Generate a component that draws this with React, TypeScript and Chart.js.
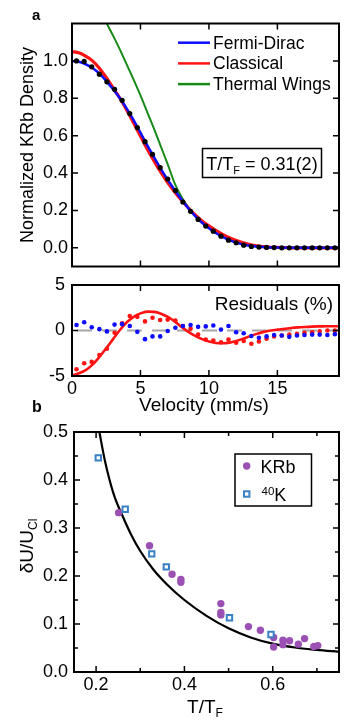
import React, { useEffect, useRef } from "react";
import { Chart, registerables } from "chart.js";

Chart.register(...registerables);

const FONT = '"Liberation Sans", Arial, Helvetica, sans-serif';
Chart.defaults.font.family = FONT;

// ---------------- Panel a : density profile ----------------
const DOT_VELOCITY = [0.33, 0.89, 1.44, 2.0, 2.55, 3.11, 3.66, 4.22, 4.77, 5.33, 5.88, 6.44, 6.99, 7.55, 8.1, 8.66, 9.21, 9.77, 10.32, 10.88, 11.43, 11.99, 12.54, 13.1, 13.65, 14.21, 14.76, 15.32, 15.87, 16.43, 16.98, 17.54, 18.09, 18.65, 19.2];
const DENSITY_DATA = [1.0, 0.997, 0.968, 0.929, 0.888, 0.848, 0.789, 0.718, 0.643, 0.568, 0.5, 0.429, 0.368, 0.306, 0.245, 0.195, 0.152, 0.116, 0.089, 0.062, 0.041, 0.027, 0.014, 0.007, 0.004, 0.002, 0.001, 0, 0, 0, 0, 0, 0, 0, 0];

const CURVE_VELOCITY = [0, 0.5, 1, 1.5, 2, 2.5, 3, 3.5, 4, 4.5, 5, 5.5, 6, 6.5, 7, 7.5, 8, 8.5, 9, 9.5, 10, 10.5, 11, 11.5, 12, 12.5, 13, 13.5, 14, 14.5, 15, 15.5, 16, 16.5, 17, 17.5, 18, 18.5, 19, 19.5];
const FERMI_DIRAC = [1.0, 0.995, 0.982, 0.962, 0.932, 0.893, 0.848, 0.8, 0.745, 0.683, 0.616, 0.548, 0.484, 0.421, 0.363, 0.309, 0.258, 0.211, 0.17, 0.134, 0.104, 0.079, 0.058, 0.041, 0.028, 0.018, 0.011, 0.007, 0.004, 0.002, 0.001, 0, 0, 0, 0, 0, 0, 0, 0, 0];
const CLASSICAL = [1.05, 1.043, 1.025, 1.0, 0.961, 0.911, 0.855, 0.8, 0.736, 0.668, 0.598, 0.528, 0.464, 0.403, 0.348, 0.299, 0.254, 0.213, 0.176, 0.144, 0.117, 0.093, 0.072, 0.054, 0.039, 0.027, 0.017, 0.01, 0.006, 0.003, 0.002, 0.001, 0, 0, 0, 0, 0, 0, 0, 0];
const THERMAL_VELOCITY = [2, 2.5, 3, 3.5, 4, 4.5, 5, 5.5, 6, 6.5, 7, 7.5, 8, 8.5, 9, 9.5, 10, 10.5, 11, 11.5, 12, 12.5, 13, 13.5, 14, 14.5, 15, 15.5, 16, 16.5, 17, 17.5, 18, 18.5, 19, 19.5];
const THERMAL_WINGS = [1.28, 1.206, 1.135, 1.06, 0.98, 0.9, 0.815, 0.725, 0.635, 0.54, 0.445, 0.345, 0.272, 0.216, 0.173, 0.136, 0.106, 0.081, 0.06, 0.043, 0.03, 0.02, 0.013, 0.008, 0.005, 0.003, 0.002, 0.001, 0, 0, 0, 0, 0, 0, 0, 0];

const DENSITY_TICKS = [0, 0.2, 0.4, 0.6, 0.8, 1.0];
const VELOCITY_TICKS = [0, 5, 10, 15];
const VELOCITY_INNER_TICKS = [5, 10, 15];

// ---------------- Residuals ----------------
const RESID_FERMI_DIRAC = [0.6, 0.9, 0.35, 0.15, -0.1, 0.65, 0.7, 0.5, -0.15, -0.95, -0.65, -0.65, -0.05, 0.3, 0.5, 0.6, 0.4, 0.45, 0.55, 0.1, 0.5, -0.2, -0.3, -0.6, -0.8, -0.65, -0.5, -0.55, -0.7, -0.55, -0.5, -0.45, -0.45, -0.5, -0.4];
const RESID_CLASSICAL = [-4.25, -3.6, -3.45, -2.7, -2.0, -0.25, 0.8, 1.6, 1.5, 1.0, 1.4, 1.15, 1.2, 1.1, 0.5, 0.2, -0.45, -1.0, -1.1, -1.3, -1.0, -1.35, -1.15, -1.45, -1.2, -0.9, -0.65, -0.55, -0.45, -0.35, -0.25, -0.2, -0.1, 0.0, 0.0];
const RESID_CLASSICAL_FIT = [-4.95, -4.7, -4.35, -3.75, -2.9, -1.95, -0.95, 0.05, 0.9, 1.5, 1.88, 2.07, 2.05, 1.85, 1.5, 1.0, 0.4, -0.15, -0.6, -0.95, -1.22, -1.37, -1.4, -1.33, -1.15, -0.9, -0.62, -0.37, -0.15, 0.0, 0.1, 0.18, 0.27, 0.34, 0.39, 0.43, 0.45, 0.46, 0.47, 0.47];
const ZERO_VELOCITY = [0, 19.5];
const ZERO_LINE = [0, 0];
const RESID_TICKS = [-5, 0, 5];

// ---------------- Panel b ----------------
const KRB_T = [0.251, 0.321, 0.372, 0.392, 0.392, 0.4825, 0.4825, 0.4825, 0.545, 0.572, 0.602, 0.602, 0.623, 0.623, 0.638, 0.658, 0.672, 0.693, 0.702];
const KRB_DU = [0.332, 0.263, 0.2035, 0.193, 0.187, 0.1425, 0.124, 0.119, 0.0946, 0.087, 0.072, 0.052, 0.066, 0.057, 0.065, 0.058, 0.0696, 0.053, 0.055];
const K40_T = [0.205, 0.266, 0.326, 0.359, 0.502, 0.596];
const K40_DU = [0.446, 0.339, 0.246, 0.219, 0.113, 0.078];
const THEORY_T = [0.2075, 0.22, 0.24, 0.26, 0.28, 0.3, 0.33, 0.36, 0.4, 0.45, 0.5, 0.55, 0.6, 0.65, 0.7, 0.75];
const THEORY_DU = [0.5, 0.44, 0.37, 0.325, 0.285, 0.252, 0.213, 0.183, 0.15, 0.117, 0.091, 0.072, 0.059, 0.051, 0.046, 0.042];
const TTF_TICKS = [0.2, 0.4, 0.6];
const TTF_MINOR = [0.3, 0.5, 0.7];
const DU_TICKS = [0, 0.1, 0.2, 0.3, 0.4, 0.5];
const DU_MINOR = [0.05, 0.15, 0.25, 0.35, 0.45];

const BLUE = "#0d0dff";
const RED = "#ff1212";
const GREEN = "#178a17";
const PURPLE = "#9b51b3";
const SQUARE_BLUE = "#3a80c4";
const GRAY = "#a6a6a6";

const mk = (xs: number[], ys: number[]) => xs.map((x, i) => ({ x, y: ys[i] }));

type Part = { t: string; size: number; dy?: number; bold?: boolean };

function drawRich(
  ctx: CanvasRenderingContext2D,
  parts: Part[],
  x: number,
  y: number,
  align: "left" | "center" | "right",
  rot = 0
) {
  ctx.save();
  ctx.translate(x, y);
  if (rot) ctx.rotate(rot);
  ctx.textBaseline = "alphabetic";
  ctx.textAlign = "left";
  ctx.fillStyle = "#000";
  const f = (p: Part) => `${p.bold ? "bold " : ""}${p.size}px ${FONT}`;
  let w = 0;
  for (const p of parts) {
    ctx.font = f(p);
    w += ctx.measureText(p.t).width;
  }
  let cx = align === "left" ? 0 : align === "center" ? -w / 2 : -w;
  for (const p of parts) {
    ctx.font = f(p);
    ctx.fillText(p.t, cx, p.dy || 0);
    cx += ctx.measureText(p.t).width;
  }
  ctx.restore();
}

function linearAxis(o: {
  min: number;
  max: number;
  ticks: number[];
  fmt: (v: number) => string;
  pad: number;
  fixWidth?: number;
  fixHeight?: number;
  display?: boolean;
}) {
  return {
    type: "linear",
    display: o.display ?? true,
    min: o.min,
    max: o.max,
    afterBuildTicks: (s: any) => {
      s.ticks = o.ticks.map((v) => ({ value: v }));
    },
    afterFit: (s: any) => {
      if (o.fixWidth !== undefined) s.width = o.fixWidth;
      if (o.fixHeight !== undefined) s.height = o.fixHeight;
      s.paddingTop = 0;
      s.paddingBottom = 0;
      s.paddingLeft = 0;
      s.paddingRight = 0;
    },
    grid: { display: false, drawTicks: false },
    border: { display: false },
    ticks: {
      autoSkip: false,
      maxRotation: 0,
      minRotation: 0,
      padding: o.pad,
      color: "#000",
      font: { family: FONT, size: 18 },
      callback: (v: any) => o.fmt(Number(v)),
    },
  };
}

function framePlugin(spec: {
  xMajor: number[];
  xMinor?: number[];
  yMajor: number[];
  yMinor?: number[];
  draw?: (ctx: CanvasRenderingContext2D) => void;
}) {
  return {
    id: "frameTicks",
    afterDraw(chart: any) {
      const { ctx, chartArea: a } = chart;
      const xs = chart.scales.x;
      const ys = chart.scales.y;
      ctx.save();
      ctx.strokeStyle = "#000";
      ctx.lineWidth = 1.5;
      ctx.beginPath();
      const vt = (vals: number[], len: number) =>
        vals.forEach((v) => {
          const p = xs.getPixelForValue(v);
          ctx.moveTo(p, a.bottom);
          ctx.lineTo(p, a.bottom - len);
          ctx.moveTo(p, a.top);
          ctx.lineTo(p, a.top + len);
        });
      const ht = (vals: number[], len: number) =>
        vals.forEach((v) => {
          const p = ys.getPixelForValue(v);
          ctx.moveTo(a.left, p);
          ctx.lineTo(a.left + len, p);
          ctx.moveTo(a.right, p);
          ctx.lineTo(a.right - len, p);
        });
      vt(spec.xMajor, 6);
      vt(spec.xMinor || [], 4);
      ht(spec.yMajor, 6);
      ht(spec.yMinor || [], 4);
      ctx.stroke();
      ctx.lineWidth = 2;
      ctx.strokeRect(a.left, a.top, a.right - a.left, a.bottom - a.top);
      ctx.restore();
      if (spec.draw) {
        ctx.save();
        spec.draw(ctx);
        ctx.restore();
      }
    },
  };
}

const baseOptions = (padding: any, scales: any) => ({
  responsive: false,
  maintainAspectRatio: false,
  animation: false,
  events: [],
  devicePixelRatio: 1,
  layout: { padding },
  plugins: { legend: { display: false }, tooltip: { enabled: false } },
  scales,
});

const LEGEND_A: [string, string][] = [
  ["Fermi-Dirac", BLUE],
  ["Classical", RED],
  ["Thermal Wings", GREEN],
];

function configA(): any {
  return {
    type: "scatter",
    data: {
      datasets: [
        { data: mk(DOT_VELOCITY, DENSITY_DATA), showLine: false, pointRadius: 2.6, pointBorderWidth: 0, backgroundColor: "#000", pointBackgroundColor: "#000" },
        { data: mk(CURVE_VELOCITY, FERMI_DIRAC), showLine: true, pointRadius: 0, borderColor: BLUE, borderWidth: 2.5, cubicInterpolationMode: "monotone" },
        { data: mk(CURVE_VELOCITY, CLASSICAL), showLine: true, pointRadius: 0, borderColor: RED, borderWidth: 3.2, cubicInterpolationMode: "monotone" },
        { data: mk(THERMAL_VELOCITY, THERMAL_WINGS), showLine: true, pointRadius: 0, borderColor: GREEN, borderWidth: 2, cubicInterpolationMode: "monotone" },
      ],
    },
    options: baseOptions(
      { left: 0, right: 20, top: 23.5, bottom: 8.5 },
      {
        x: linearAxis({ min: 0, max: 19.5, ticks: VELOCITY_TICKS, fmt: (v) => String(v), pad: 2, display: false }),
        y: linearAxis({ min: -0.1, max: 1.2, ticks: DENSITY_TICKS, fmt: (v) => v.toFixed(1), pad: 4, fixWidth: 72 }),
      }
    ),
    plugins: [
      framePlugin({
        xMajor: VELOCITY_INNER_TICKS,
        yMajor: DENSITY_TICKS,
        draw: (ctx) => {
          drawRich(ctx, [{ t: "a", size: 15, bold: true }], 32, 20, "left");
          drawRich(ctx, [{ t: "Normalized KRb Density", size: 18 }], 33, 145, "center", -Math.PI / 2);
          LEGEND_A.forEach(([label, color], i) => {
            const y = 42.7 + i * 20.7;
            ctx.strokeStyle = color;
            ctx.lineWidth = 2.5;
            ctx.beginPath();
            ctx.moveTo(178, y);
            ctx.lineTo(210, y);
            ctx.stroke();
            drawRich(ctx, [{ t: label, size: 17.5 }], 213, y + 6, "left");
          });
          ctx.strokeStyle = "#000";
          ctx.lineWidth = 1.5;
          ctx.strokeRect(202.5, 148.5, 119, 29);
          drawRich(
            ctx,
            [
              { t: "T/T", size: 18 },
              { t: "F", size: 11, dy: 4 },
              { t: " = 0.31(2)", size: 18 },
            ],
            262,
            170,
            "center"
          );
        },
      }),
    ],
  };
}

function configResid(): any {
  return {
    type: "scatter",
    data: {
      datasets: [
        { data: mk(DOT_VELOCITY, RESID_FERMI_DIRAC), showLine: false, pointRadius: 2.3, pointBorderWidth: 0, backgroundColor: BLUE, pointBackgroundColor: BLUE },
        { data: mk(DOT_VELOCITY, RESID_CLASSICAL), showLine: false, pointRadius: 2.3, pointBorderWidth: 0, backgroundColor: RED, pointBackgroundColor: RED },
        { data: mk(CURVE_VELOCITY, RESID_CLASSICAL_FIT), showLine: true, pointRadius: 0, borderColor: RED, borderWidth: 2.6, cubicInterpolationMode: "monotone" },
        { data: mk(ZERO_VELOCITY, ZERO_LINE), showLine: true, pointRadius: 0, borderColor: GRAY, borderWidth: 2, borderDash: [15, 10], borderDashOffset: 20 },
      ],
    },
    options: baseOptions(
      { left: 0, right: 20, top: 10, bottom: 0 },
      {
        x: linearAxis({ min: 0, max: 19.5, ticks: VELOCITY_TICKS, fmt: (v) => String(v), pad: 2, fixHeight: 44 }),
        y: linearAxis({ min: -5, max: 5, ticks: RESID_TICKS, fmt: (v) => String(v), pad: 7, fixWidth: 72 }),
      }
    ),
    plugins: [
      framePlugin({
        xMajor: VELOCITY_INNER_TICKS,
        yMajor: [0],
        draw: (ctx) => {
          drawRich(ctx, [{ t: "Residuals (%)", size: 19 }], 333, 35, "right");
          drawRich(ctx, [{ t: "Velocity (mm/s)", size: 19 }], 204, 136, "center");
        },
      }),
    ],
  };
}

function configB(): any {
  return {
    type: "scatter",
    data: {
      datasets: [
        { data: mk(K40_T, K40_DU), showLine: false, pointStyle: "rect", pointRadius: 3.8, pointBorderWidth: 2, borderColor: SQUARE_BLUE, pointBorderColor: SQUARE_BLUE, backgroundColor: "#fff", pointBackgroundColor: "#fff" },
        { data: mk(KRB_T, KRB_DU), showLine: false, pointStyle: "circle", pointRadius: 3.7, pointBorderWidth: 0, backgroundColor: PURPLE, pointBackgroundColor: PURPLE },
        { data: mk(THEORY_T, THEORY_DU), showLine: true, pointRadius: 0, borderColor: "#000", borderWidth: 2.2, cubicInterpolationMode: "monotone" },
      ],
    },
    options: baseOptions(
      { left: 0, right: 20, top: 37, bottom: 0 },
      {
        x: linearAxis({ min: 0.15, max: 0.75, ticks: TTF_TICKS, fmt: (v) => v.toFixed(1), pad: 2, fixHeight: 53 }),
        y: linearAxis({ min: 0, max: 0.5, ticks: DU_TICKS, fmt: (v) => v.toFixed(1), pad: 6, fixWidth: 74 }),
      }
    ),
    plugins: [
      framePlugin({
        xMajor: TTF_TICKS,
        xMinor: TTF_MINOR,
        yMajor: DU_TICKS,
        yMinor: DU_MINOR,
        draw: (ctx) => {
          drawRich(ctx, [{ t: "b", size: 16, bold: true }], 32, 17, "left");
          drawRich(
            ctx,
            [
              { t: "δU/U", size: 19 },
              { t: "Cl", size: 12, dy: 4 },
            ],
            33,
            151,
            "center",
            -Math.PI / 2
          );
          drawRich(
            ctx,
            [
              { t: "T/T", size: 19 },
              { t: "F", size: 12, dy: 4 },
            ],
            205,
            318,
            "center"
          );
          // legend box
          ctx.strokeStyle = "#000";
          ctx.lineWidth = 1.5;
          ctx.strokeRect(235, 59, 76.5, 52);
          ctx.fillStyle = PURPLE;
          ctx.beginPath();
          ctx.arc(246.7, 71, 3.7, 0, Math.PI * 2);
          ctx.fill();
          drawRich(ctx, [{ t: "KRb", size: 18 }], 260.5, 78.3, "left");
          ctx.fillStyle = "#fff";
          ctx.strokeStyle = SQUARE_BLUE;
          ctx.lineWidth = 2;
          ctx.fillRect(244, 96.3, 5.4, 5.4);
          ctx.strokeRect(244, 96.3, 5.4, 5.4);
          drawRich(
            ctx,
            [
              { t: "40", size: 11.5, dy: -5.7 },
              { t: "K", size: 18 },
            ],
            261.5,
            105.7,
            "left"
          );
        },
      }),
    ],
  };
}

function ChartCanvas({ top, height, make }: { top: number; height: number; make: () => any }) {
  const ref = useRef<HTMLCanvasElement>(null);
  useEffect(() => {
    const chart = new Chart(ref.current as HTMLCanvasElement, make());
    return () => chart.destroy();
  }, []);
  return (
    <canvas
      ref={ref}
      width={359}
      height={height}
      style={{ position: "absolute", left: 0, top, width: 359, height, display: "block" }}
    />
  );
}

export default function App() {
  return (
    <div style={{ position: "fixed", left: 0, top: 0, width: 359, height: 725, background: "#fff", overflow: "hidden" }}>
      <ChartCanvas top={0} height={275} make={configA} />
      <ChartCanvas top={275} height={145} make={configResid} />
      <ChartCanvas top={395} height={330} make={configB} />
    </div>
  );
}
